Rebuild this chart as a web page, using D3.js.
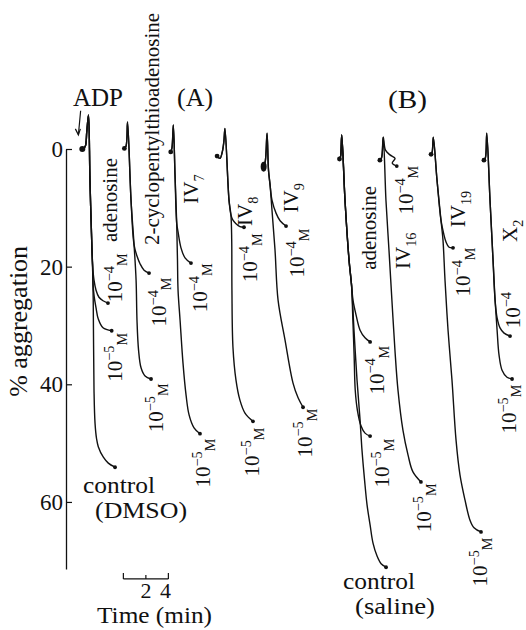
<!DOCTYPE html>
<html><head><meta charset="utf-8">
<script src="https://cdn.jsdelivr.net/npm/d3@7/dist/d3.min.js"></script>
<style>body{margin:0;background:#fff}svg{display:block}text{font-family:"Liberation Serif","Times New Roman",Times,serif;fill:#111}</style>
</head><body>
<svg id="chart" width="526" height="630" font-family="Liberation Serif, Times New Roman, serif"></svg>
<script>
// ===== data (time in min, aggregation in %) =====
const yTicks = [0, 20, 40, 60];
const yAxisMax = 71.4;
const scaleBarStart = 5.1;
const scaleBarTicks = [0, 2, 4];
const scaleBarLabels = ["", "2", "4"];

const groupNames = ["adenosine (A)", "2-cyclopentylthioadenosine", "IV7", "IV8", "IV9",
                    "adenosine (B)", "IV16", "IV19", "X2"];
const groupStart = [2.0, 5.47, 9.54, 14.13, 17.87, 24.51, 28.2, 32.65, 37.4];

// panel A
const adenA_common = [[-0.55,0],[-0.3,-0.4],[-0.15,-3],[0,-5.8],[0.13,5.3],[0.31,17.2],[0.36,19.7]];
const adenA_control = [[0.42,25.7],[0.49,41.0],[0.58,46.6],[0.72,49.3],[0.87,50.6],[1.32,52.4],[1.76,53.4],[2.36,54.1]];
const adenA_1e4 = [[0.49,22.3],[0.67,24.0],[0.93,25.2],[1.29,25.8],[1.73,26.2]];
const adenA_1e5 = [[0.41,23.1],[0.5,25.0],[0.67,27.0],[0.87,28.9],[1.29,30.4],[2.06,30.9]];

const cpta_common = [[-0.28,-0.1],[-0.13,-0.5],[0,-4.6],[0.31,8.7],[0.58,16.3]];
const cpta_1e4 = [[0.84,18.2],[1.11,19.5],[1.47,20.6],[1.91,21.1]];
const cpta_1e5 = [[0.76,22.3],[0.84,29.1],[0.98,34.2],[1.2,37.2],[1.56,38.6],[2.09,39.1]];

const iv7_common = [[-0.23,0.5],[-0.12,-0.2],[0,-4.1],[0.15,4.4],[0.3,12.6]];
const iv7_1e4 = [[0.42,14.1],[0.68,16.8],[1.04,18.5],[1.57,19.4]];
const iv7_1e5 = [[0.37,18.9],[0.42,24.0],[0.6,29.1],[0.86,36.4],[1.13,41.8],[1.4,45.2],[1.84,47.4],[2.37,48.4]];

const iv8_common = [[-0.7,1.2],[-0.45,1.6],[-0.25,0.6],[-0.1,-1.2],[0,-3.5],[0.36,8.7],[0.53,11.2]];
const iv8_1e4 = [[0.71,12.1],[0.98,12.7],[1.33,13.2],[1.69,13.3]];
const iv8_1e5 = [[0.6,15.5],[0.62,24.0],[0.71,33.7],[0.98,39.3],[1.33,42.7],[1.78,44.9],[2.49,46.3]];

const iv9_common = [[-0.3,3.0],[-0.15,2.0],[0,-2.7],[0.13,3.6],[0.27,6.1]];
const iv9_1e4 = [[0.44,8.7],[0.8,10.9],[1.16,12.2],[1.69,13.1]];
const iv9_1e5 = [[0.44,10.4],[0.71,17.2],[0.98,25.7],[1.6,32.5],[2.31,39.8],[2.76,42.3],[3.2,43.9]];

// panel B
const adenB_common = [[-0.2,1.7],[-0.1,1.2],[0,-2.4],[0.29,8.7],[0.65,18.9],[0.87,23.1]];
const adenB_1e4 = [[1.0,25.7],[1.27,28.2],[1.63,30.8],[2.07,32.1],[2.52,32.8]];
const adenB_1e5 = [[0.98,28.5],[1.1,35.0],[1.2,41.0],[1.4,44.5],[1.7,47.0],[2.07,48.3],[2.52,48.8]];
const adenB_control = [[1.09,30.8],[1.36,39.3],[1.63,46.1],[1.8,51.2],[2.03,56.3],[2.25,60.5],[2.52,63.9],[2.78,67.0],[3.14,69.2],[3.5,70.5],[3.94,71.1]];

const iv16_common = [[-0.3,1.9],[-0.15,1.5],[0,-2.0]];
const iv16_1e4 = [[0.2,0.2],[0.6,1.0],[1.05,1.6],[0.8,2.4],[1.2,2.9]];
const iv16_1e5 = [[0.24,8.7],[0.51,17.2],[0.77,25.7],[1.04,34.2],[1.31,41.0],[1.75,47.8],[2.2,52.0],[2.64,54.9],[3.35,56.6]];

const iv19_common = [[-0.2,0.9],[-0.1,0.5],[0,-2.0],[0.33,5.3],[0.68,12.1]];
const iv19_1e4 = [[0.91,14.3],[1.13,15.8],[1.4,16.7],[1.75,16.8]];
const iv19_1e5 = [[0.86,15.5],[1.04,22.3],[1.31,30.8],[1.66,39.3],[2.02,49.5],[2.37,55.4],[2.82,59.7],[3.26,63.1],[3.62,64.4],[4.24,65.1]];

const x2_common = [[-0.25,1.9],[-0.12,1.5],[0,-2.7],[0.29,8.7],[0.56,18.9],[0.74,25.7]];
const x2_1e4 = [[0.92,28.7],[1.18,30.4],[1.54,31.3],[2.07,31.8]];
const x2_1e5 = [[0.92,30.8],[1.09,35.0],[1.36,37.6],[1.8,38.8],[2.25,39.1]];

const commons = [adenA_common, cpta_common, iv7_common, iv8_common, iv9_common,
                 adenB_common, iv16_common, iv19_common, x2_common];
const branches = [
  [adenA_control, adenA_1e4, adenA_1e5],
  [cpta_1e4, cpta_1e5],
  [iv7_1e4, iv7_1e5],
  [iv8_1e4, iv8_1e5],
  [iv9_1e4, iv9_1e5],
  [adenB_control, adenB_1e4, adenB_1e5],
  [iv16_1e4, iv16_1e5],
  [iv19_1e4, iv19_1e5],
  [x2_1e4, x2_1e5]
];

// annotations: vertical (rotated) labels  [base, sup, sub, time(min), aggregation(%)]
const vLabels = [
  ["adenosine","","",3.91,8.67],
  ["10","−4","M",4.36,21.9],
  ["10","−5","M",4.36,35.4],
  ["2-cyclopentylthioadenosine","","",7.64,-3.4],
  ["10","−4","M",8.27,26.0],
  ["10","−5","M",8.0,44.0],
  ["IV","","7",11.11,6.8],
  ["10","−4","M",11.91,23.6],
  ["10","−5","M",12.18,53.4],
  ["IV","","8",15.9,10.6],
  ["10","−4","M",16.36,18.5],
  ["10","−5","M",16.53,51.5],
  ["IV","","9",20.0,8.3],
  ["10","−4","M",20.53,17.7],
  ["10","−5","M",21.24,48.3],
  ["adenosine","","",26.93,13.4],
  ["10","−4","M",27.64,37.6],
  ["10","−5","M",28.09,53.4],
  ["IV","","16",29.96,17.3],
  ["10","−4","M",30.22,7.0],
  ["10","−5","M",31.82,61.0],
  ["IV","","19",34.84,10.2],
  ["10","−4","M",35.29,20.9],
  ["10","−5","M",36.8,70.2],
  ["X","","2",39.47,13.9],
  ["10","−4","",39.7,27.4],
  ["10","−5","M",39.4,44.2]
];
// horizontal labels [text, time(min) of left edge, aggregation(%) of baseline]
const hLabels = [
  ["ADP",0.62,-7.31],
  ["(A)",9.87,-7.31],
  ["(B)",28.62,-6.97],
  ["control",1.51,58.47],
  ["(DMSO)",2.58,62.72],
  ["control",24.62,74.79],
  ["(saline)",25.69,79.04]
];
const hLabelWidths = [50,36,39,72,92,72,80];
const hLabelSizes = [25,25,25,24,24,24,24];

// ===== drawing =====
const svg = d3.select("#chart");
const x = d3.scaleLinear().domain([0, 40]).range([66, 516]);
const y = d3.scaleLinear().domain([0, yAxisMax]).range([149, 569]);
const FONT = '"Liberation Serif","Times New Roman",Times,serif';

// y axis
const yAxis = d3.axisLeft(y).tickValues(yTicks).tickSizeInner(-6).tickSizeOuter(0).tickPadding(3);
const ax = svg.append("g").attr("transform", `translate(${x(0)},0)`).call(yAxis).attr("font-family", null);
ax.select(".domain").attr("stroke","#111").attr("stroke-width",1.3);
ax.selectAll(".tick line").attr("stroke","#111").attr("stroke-width",1.2);
ax.selectAll(".tick text").style("font-size","23px").style("font-family",FONT).attr("fill","#111");

// y axis title
svg.append("text")
  .attr("transform", `translate(27,${y(29.3)}) rotate(-90)`)
  .attr("text-anchor","middle").style("font-size","25px").style("font-family",FONT)
  .attr("textLength",151).attr("lengthAdjust","spacingAndGlyphs")
  .text("% aggregation");

// traces
const line = d3.line().curve(d3.curveCatmullRom.alpha(0.5));
commons.forEach((common, gi) => {
  const t0 = groupStart[gi];
  const px = d => [x(t0 + d[0]), y(d[1])];
  branches[gi].forEach(br => {
    const pts = common.concat(br).map(px);
    svg.append("path").attr("d", line(pts)).attr("fill","none")
      .attr("stroke","#111").attr("stroke-width",1.4).attr("stroke-linejoin","round");
    const e = pts[pts.length-1];
    svg.append("circle").attr("cx",e[0]).attr("cy",e[1]).attr("r",1.9).attr("fill","#111");
  });
  const b = px(common[0]);
  if (gi === 4) {
    svg.append("ellipse").attr("cx",b[0]).attr("cy",b[1]).attr("rx",3).attr("ry",5).attr("fill","#111");
  } else {
    svg.append("circle").attr("cx",b[0]).attr("cy",b[1]).attr("r", gi===0 ? 3 : 2.4).attr("fill","#111");
  }
});

// ADP arrow
const ax0 = x(groupStart[0] - 0.7), ay0 = y(-6.5), ax1 = x(groupStart[0] - 0.9), ay1 = y(-2.4);
svg.append("line").attr("x1",ax0).attr("y1",ay0).attr("x2",ax1).attr("y2",ay1).attr("stroke","#111").attr("stroke-width",1.2);
svg.append("path").attr("d",`M${ax1-3},${ay1-6} L${ax1},${ay1} L${ax1+2},${ay1-6}`).attr("fill","none").attr("stroke","#111").attr("stroke-width",1.2);

// vertical labels
const fs = 21;
vLabels.forEach(([base, sup, sub, t, v]) => {
  const txt = svg.append("text")
    .attr("transform", `translate(${x(t) + fs*0.33},${y(v)}) rotate(-90)`)
    .attr("text-anchor","middle").style("font-size", fs+"px").style("font-family",FONT);
  txt.append("tspan").text(base);
  if (sup) txt.append("tspan").attr("dy", -0.4*fs).style("font-size", (0.68*fs)+"px").text(sup);
  if (sub) txt.append("tspan").attr("dy", sup ? 0.65*fs : 0.3*fs).style("font-size", (0.68*fs)+"px").text(sub);
});

// horizontal labels
hLabels.forEach(([s, t, v], i) => {
  svg.append("text").attr("x", x(t)).attr("y", y(v))
    .style("font-size", hLabelSizes[i]+"px").style("font-family",FONT)
    .attr("textLength", hLabelWidths[i]).attr("lengthAdjust","spacingAndGlyphs")
    .text(s);
});

// time scale bar
const sbY = y(73.09);
const sb = svg.append("g");
sb.append("line").attr("x1", x(scaleBarStart)).attr("x2", x(scaleBarStart + 4))
  .attr("y1", sbY).attr("y2", sbY).attr("stroke","#111").attr("stroke-width",1.2);
scaleBarTicks.forEach((d, i) => {
  const xx = x(scaleBarStart + d);
  sb.append("line").attr("x1",xx).attr("x2",xx).attr("y1",sbY).attr("y2", sbY - (i===1 ? 4 : 6))
    .attr("stroke","#111").attr("stroke-width",1.2);
  if (scaleBarLabels[i]) sb.append("text").attr("x", xx - (i===2 ? 3 : 0)).attr("y", y(76.32))
    .attr("text-anchor","middle").style("font-size","22px").style("font-family",FONT).text(scaleBarLabels[i]);
});
svg.append("text").attr("x", x(2.76)).attr("y", y(80.57)).style("font-size","24px").style("font-family",FONT)
  .attr("textLength",115).attr("lengthAdjust","spacingAndGlyphs").text("Time (min)");
</script>
</body></html>
